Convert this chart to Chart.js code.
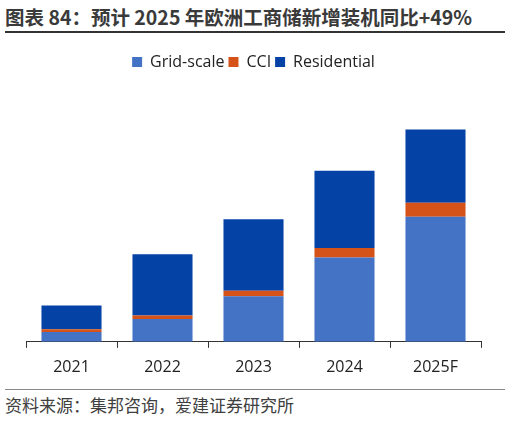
<!DOCTYPE html>
<html>
<head>
<meta charset="utf-8">
<script src="https://cdn.jsdelivr.net/npm/chart.js@4.4.1/dist/chart.umd.min.js"></script>
<style>
	html, body { margin: 0; padding: 0; background: #fff; }
	body { width: 511px; height: 421px; position: relative; overflow: hidden; }
	#title {
		position: absolute; left: 5px; top: 3px; width: 500px;
		font-family: "Noto Sans CJK SC", sans-serif; font-weight: bold; font-size: 19.5px;
		color: #3a3a3a; white-space: nowrap; line-height: 28px;
		border-bottom: 2px solid #333; height: 28px;
	}
	#source {
		position: absolute; left: 5px; top: 389px; width: 500px;
		border-top: 1px solid #888;
		font-family: "Noto Sans CJK SC", sans-serif; font-size: 17px;
		color: #404040; white-space: nowrap; line-height: 30px;
	}
	#wrap { position: absolute; left: 0; top: 50px; width: 511px; height: 337px; }
</style>
</head>
<body>
<div id="title">图表 84：预计 2025 年欧洲工商储新增装机同比+49%</div>
<div id="wrap"><canvas id="barChart"></canvas></div>
<div id="source">资料来源：集邦咨询，爱建证券研究所</div>
<script>
var categories = ['2021', '2022', '2023', '2024', '2025F'];
var gridScale = [1.0, 2.3, 4.6, 8.5, 12.6];
var cci = [0.27, 0.34, 0.56, 0.95, 1.42];
var residential = [2.4, 6.2, 7.2, 7.8, 7.4];

var barChart;

var handleRenderChart = function() {
	Chart.defaults.font.family = '"Open Sans", "Noto Sans", sans-serif';
	Chart.defaults.color = '#222';
	Chart.defaults.animation = false;

	var ctx = document.getElementById('barChart');
	barChart = new Chart(ctx, {
		type: 'bar',
		data: {
			labels: categories,
			datasets: [{
				label: 'Grid-scale',
				data: gridScale,
				backgroundColor: '#4472C4',
				barPercentage: 0.66,
				categoryPercentage: 1
			}, {
				label: 'CCI',
				data: cci,
				backgroundColor: '#D55318',
				barPercentage: 0.66,
				categoryPercentage: 1
			}, {
				label: 'Residential',
				data: residential,
				backgroundColor: '#0442A5',
				barPercentage: 0.66,
				categoryPercentage: 1
			}]
		},
		options: {
			responsive: true,
			maintainAspectRatio: false,
			layout: { padding: { left: 26, right: 30, top: 0, bottom: 0 } },
			plugins: {
				legend: {
					display: true,
					labels: {
						boxWidth: 10, boxHeight: 10, padding: 4,
						color: '#222',
						font: { size: 16 }
					}
				},
				tooltip: { enabled: false }
			},
			scales: {
				x: {
					stacked: true,
					border: { display: true, color: '#333', width: 1 },
					grid: { display: true, drawOnChartArea: false, drawTicks: true, tickLength: 6, color: '#333', offset: true },
					ticks: { padding: 10, color: '#222', font: { size: 16 } }
				},
				y: {
					stacked: true,
					display: false,
					min: 0,
					max: 26.4
				}
			}
		}
	});
};

handleRenderChart();
</script>
</body>
</html>
